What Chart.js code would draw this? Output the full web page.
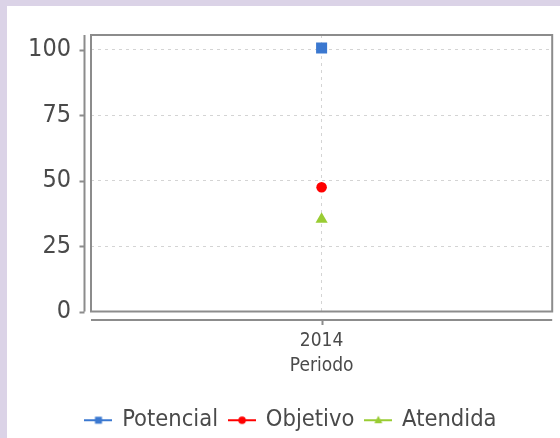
<!DOCTYPE html>
<html>
<head>
<meta charset="utf-8">
<script src="https://cdn.jsdelivr.net/npm/chart.js@4.4.1/dist/chart.umd.min.js"></script>
<style>
  html, body { margin: 0; padding: 0; background: #fff; }
  #c { display: block; }
</style>
</head>
<body>
<canvas id="c" width="560" height="438"></canvas>
<script>
// datos
const periodos = ["2014"];
const potencial = [100.7];
const objetivo = [47.5];
const atendida = [35.3];
const yTicks = [0, 25, 50, 75, 100];
const yMax = 105.7;
const nombres = ["Potencial", "Objetivo", "Atendida"];
const colores = ["#3b78d0", "#ff0000", "#99cc33"];

const FONT = "'DejaVu Sans Condensed', 'DejaVu Sans', sans-serif";
const TEXTO = "#4a4a4a";

// icono de leyenda: linea + marcador
function iconoLeyenda(color, tipo) {
  const c = document.createElement("canvas");
  c.width = 28; c.height = 12;
  const g = c.getContext("2d");
  g.strokeStyle = color; g.lineWidth = 2;
  g.beginPath(); g.moveTo(0, 6); g.lineTo(28, 6); g.stroke();
  g.fillStyle = color;
  g.beginPath();
  if (tipo === "rect") g.rect(10.5, 2.5, 7, 7);
  else if (tipo === "circle") g.arc(14, 6, 3.8, 0, Math.PI * 2);
  else { g.moveTo(14, 1.5); g.lineTo(18, 9); g.lineTo(10, 9); g.closePath(); }
  g.fill();
  return c;
}

const estilos = ["rect", "circle", "triangle"];
const radios = [7.8, 5.3, 7];

// fondo lila + panel blanco, caja del grafico y ejes separados
const marco = {
  id: "marco",
  afterLayout(chart) {
    // mover la leyenda un poco abajo y a la derecha
    const l = chart.legend;
    if (l) { l.top += 4; l.bottom += 4; l.left += 3.5; l.right += 3.5; }
  },
  beforeDraw(chart) {
    const ctx = chart.ctx;
    ctx.save();
    ctx.fillStyle = "#dbd3e7";
    ctx.fillRect(0, 0, chart.width, chart.height);
    ctx.fillStyle = "#ffffff";
    ctx.fillRect(7, 6, chart.width - 7, chart.height - 6);
    ctx.restore();
  },
  afterDatasetsDraw(chart) {
    const ctx = chart.ctx;
    const a = chart.chartArea;
    const y = chart.scales.y, x = chart.scales.x;
    ctx.save();
    ctx.strokeStyle = "#8c8c8c";
    ctx.lineWidth = 2;
    ctx.strokeRect(a.left, a.top, a.right - a.left, a.bottom - a.top);
    // eje y
    const ax = a.left - 6.5;
    ctx.beginPath();
    ctx.moveTo(ax, a.top); ctx.lineTo(ax, a.bottom);
    y.ticks.forEach(t => {
      const py = Math.round(y.getPixelForValue(t.value)) + 0.5;
      ctx.moveTo(ax, py); ctx.lineTo(ax - 5, py);
    });
    // eje x
    const ay = a.bottom + 8.5;
    ctx.moveTo(a.left, ay); ctx.lineTo(a.right, ay);
    x.ticks.forEach((t, i) => {
      const px = Math.round(x.getPixelForTick(i)) + 0.5;
      ctx.moveTo(px, ay); ctx.lineTo(px, ay + 5);
    });
    ctx.stroke();
    ctx.restore();
  }
};

const series = [potencial, objetivo, atendida];

new Chart(document.getElementById("c"), {
  type: "line",
  data: {
    labels: periodos,
    datasets: series.map((d, i) => ({
      label: nombres[i],
      data: d,
      borderColor: colores[i],
      backgroundColor: colores[i],
      pointStyle: estilos[i],
      pointRadius: radios[i],
      pointHoverRadius: radios[i],
      pointBorderWidth: 0,
      showLine: false
    }))
  },
  options: {
    responsive: false,
    animation: false,
    events: [],
    layout: { padding: { left: 22, right: 6, top: 33, bottom: 0 } },
    plugins: {
      tooltip: { enabled: false },
      legend: {
        position: "bottom",
        labels: {
          usePointStyle: true,
          pointStyleWidth: 24,
          padding: 12,
          color: TEXTO,
          font: { family: FONT, size: 23.5 },
          generateLabels: chart => chart.data.datasets.map((ds, i) => ({
            text: ds.label,
            pointStyle: iconoLeyenda(colores[i], estilos[i]),
            fillStyle: colores[i],
            strokeStyle: colores[i],
            fontColor: TEXTO,
            lineWidth: 0,
            datasetIndex: i
          }))
        }
      }
    },
    scales: {
      x: {
        offset: true,
        border: { display: false, dash: [3, 4] },
        grid: { display: true, drawTicks: false, color: "#d4d4d4" },
        ticks: { color: TEXTO, padding: 18, font: { family: FONT, size: 19 } },
        title: { display: true, text: "Periodo", color: TEXTO, font: { family: FONT, size: 19 }, padding: { top: 2, bottom: 15 } },
        afterFit: s => { s.height = 81; }
      },
      y: {
        min: 0,
        max: yMax,
        border: { display: false, dash: [3, 4] },
        grid: { drawTicks: false, color: "#d4d4d4" },
        ticks: { color: TEXTO, padding: 20, font: { family: FONT, size: 25 } },
        afterBuildTicks: s => { s.ticks = yTicks.map(v => ({ value: v })); },
        afterFit: s => { s.width = 69; }
      }
    }
  },
  plugins: [marco]
});
</script>
</body>
</html>
